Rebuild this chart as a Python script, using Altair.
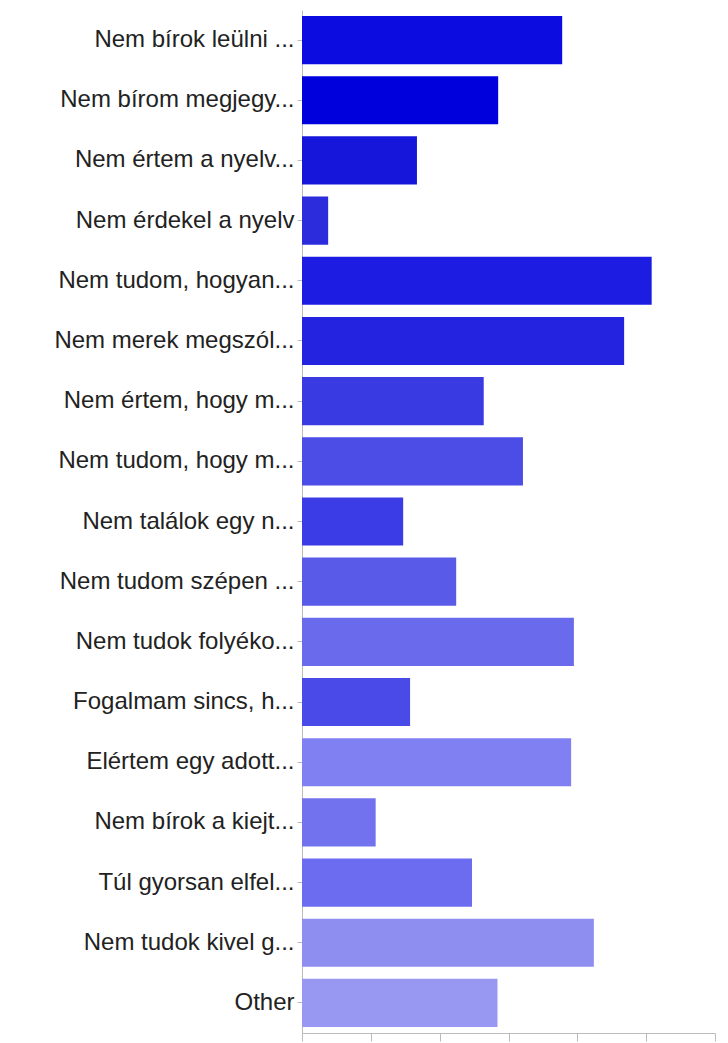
import altair as alt
import pandas as pd

labels = [
    "Nem bírok leülni ...",
    "Nem bírom megjegy...",
    "Nem értem a nyelv...",
    "Nem érdekel a nyelv",
    "Nem tudom, hogyan...",
    "Nem merek megszól...",
    "Nem értem, hogy m...",
    "Nem tudom, hogy m...",
    "Nem találok egy n...",
    "Nem tudom szépen ...",
    "Nem tudok folyéko...",
    "Fogalmam sincs, h...",
    "Elértem egy adott...",
    "Nem bírok a kiejt...",
    "Túl gyorsan elfel...",
    "Nem tudok kivel g...",
    "Other",
]
values = [37.8, 28.5, 16.7, 3.8, 50.8, 46.8, 26.4, 32.1, 14.7, 22.4,
          39.5, 15.7, 39.1, 10.7, 24.7, 42.4, 28.4]
colors = ["#0c0ce0", "#0000dc", "#1616da", "#2c2cdc", "#1c1ce2", "#2424e0",
          "#3a3ae2", "#4c4ce6", "#3c3ce6", "#5a5ae8", "#6a6aec", "#4a4ae8",
          "#8080f2", "#7272ee", "#6c6cf0", "#8e8ef0", "#9898f2"]
x_ticks = [0, 10, 20, 30, 40, 50, 60]

df = pd.DataFrame({"label": labels, "value": values, "color": colors})

chart = alt.Chart(df).mark_bar().encode(
    x=alt.X(
        "value:Q",
        scale=alt.Scale(domain=[0, 60], nice=False),
        axis=alt.Axis(values=x_ticks, labels=False, grid=False, title=None,
                      domainColor="#bbbbbb", tickColor="#bbbbbb", tickSize=8),
    ),
    y=alt.Y(
        "label:N",
        sort=labels,
        scale=alt.Scale(paddingInner=0.2, paddingOuter=0.1),
        axis=alt.Axis(title=None, labelFontSize=24, labelFont="Liberation Sans",
                      labelColor="#222222", labelLimit=0, labelPadding=3,
                      domainColor="#bbbbbb", tickColor="#bbbbbb", tickSize=5),
    ),
    color=alt.Color("color:N", scale=None),
    tooltip=["label:N", "value:Q"],
).properties(
    width=413,
    height=1023,
    padding={"left": 294, "top": 2, "right": 5, "bottom": 20},
    autosize="none",
).configure_view(stroke=None)

chart.save("out.html", embed_options={"renderer": "svg", "actions": False})
